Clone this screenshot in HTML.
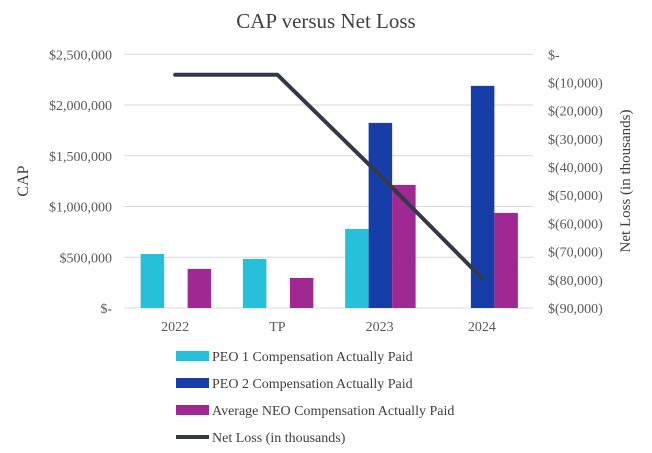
<!DOCTYPE html>
<html><head><meta charset="utf-8"><style>
body{margin:0;background:#fff;}
svg{display:block;font-family:"Liberation Serif",serif;}
</style></head><body>
<svg id="chart" width="652" height="453">
<text x="326" y="28" text-anchor="middle" font-size="21" fill="#404040">CAP versus Net Loss</text>
<g id="grid"></g><g id="bars"></g><g id="line"></g><g id="axes"></g>
<text transform="translate(28,181) rotate(-90)" text-anchor="middle" font-size="16" fill="#404040">CAP</text>
<text transform="translate(630,181) rotate(-90)" text-anchor="middle" font-size="15" fill="#404040">Net Loss (in thousands)</text>
<g id="legend"></g>
</svg>
<script>
const categories=["2022","TP","2023","2024"];
const peo1=[532000,483000,779000,null];
const peo2=[null,null,1824000,2189000];
const neo=[385000,296000,1213000,937000];
const netLoss=[-7240,-7240,-42800,-79350];
const leftTicks=["$-","$500,000","$1,000,000","$1,500,000","$2,000,000","$2,500,000"];
const rightTicks=["$-","$(10,000)","$(20,000)","$(30,000)","$(40,000)","$(50,000)","$(60,000)","$(70,000)","$(80,000)","$(90,000)"];
const legendLabels=["PEO 1 Compensation Actually Paid","PEO 2 Compensation Actually Paid","Average NEO Compensation Actually Paid","Net Loss (in thousands)"];
const NS="http://www.w3.org/2000/svg";
const X0=124,X1=533,Y0=308,Y1=54.3;
const yL=v=>Y0-(v/2500000)*(Y0-Y1);
const yR=v=>Y1+(-v/90000)*(Y0-Y1);
const bw=(X1-X0)/categories.length;
const xC=i=>X0+bw*(i+0.5);
function mk(t,a,p){const e=document.createElementNS(NS,t);for(const k in a)e.setAttribute(k,a[k]);p.appendChild(e);return e;}
const G=document.getElementById('grid'),B=document.getElementById('bars'),L=document.getElementById('line'),A=document.getElementById('axes'),LG=document.getElementById('legend');
leftTicks.forEach((t,i)=>{const y=yL(i*500000);
 const g=mk('line',{x1:X0,x2:X1,y1:y,y2:y,stroke:'#d9d9d9','stroke-width':1},G);
 
 
 const tx=mk('text',{x:112,y:y+5,'text-anchor':'end','font-size':14,fill:'#595959'},A);tx.textContent=t;
 
 });
rightTicks.forEach((t,i)=>{const y=yR(-i*10000);
 const tx=mk('text',{x:548,y:y+5,'font-size':14,fill:'#595959'},A);tx.textContent=t;
 
 });
categories.forEach((c,i)=>{const tx=mk('text',{x:xC(i),y:331,'text-anchor':'middle','font-size':14,fill:'#595959'},A);tx.textContent=c;
 
 });
const series=[[peo1,'#26c0da',-34.5,'peo1-bar'],[peo2,'#173ea8',-11,'peo2-bar'],[neo,'#a02892',12.5,'neo-bar']];
series.forEach(([arr,col,off,nm])=>arr.forEach((v,i)=>{if(v==null)return;
 const r=mk('rect',{x:xC(i)+off,y:yL(v),width:23.5,height:Y0-yL(v),fill:col},B);
 
 }));
const pl=mk('polyline',{points:netLoss.map((v,i)=>xC(i)+','+yR(v)).join(' '),fill:'none',stroke:'#333a47','stroke-width':4,'stroke-linecap':'round','stroke-linejoin':'round'},L);


const cols=['#26c0da','#173ea8','#a02892','#333a47'];
legendLabels.forEach((t,i)=>{const y=356+i*27;
 let s;
 if(i<3)s=mk('rect',{x:176,y:y-5,width:33,height:10,fill:cols[i]},LG);
 else s=mk('line',{x1:176,x2:209,y1:y,y2:y,stroke:cols[i],'stroke-width':4},LG);
 
 
 const tx=mk('text',{x:212,y:y+5,'font-size':14,fill:'#404040'},LG);tx.textContent=t;
 
 });
</script>
</body></html>
